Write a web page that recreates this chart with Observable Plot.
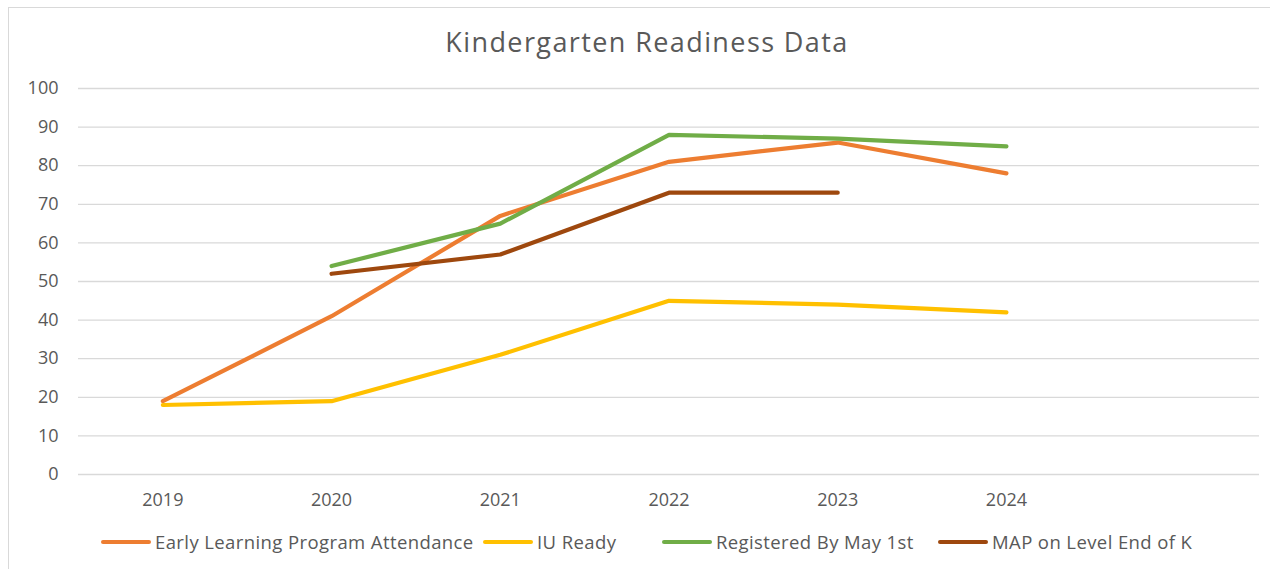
<!DOCTYPE html>
<html>
<head>
<meta charset="utf-8">
<script src="https://cdn.jsdelivr.net/npm/d3@7"></script>
<script src="https://cdn.jsdelivr.net/npm/@observablehq/plot@0.6"></script>
<style>
  html, body { margin: 0; padding: 0; background: #fff; }
  body { width: 1270px; height: 569px; position: relative; overflow: hidden; font-family: "Open Sans", Lato, sans-serif; }
  #frame { position: absolute; left: 8px; top: 7px; width: 1270px; height: 600px; border: 1px solid #d9d9d9; box-sizing: border-box; }
  #title { position: absolute; left: 0; width: 1294px; top: 28px; line-height: 27px; text-align: center; font-size: 27px; letter-spacing: 1.4px; color: #595959; }
  #chart { position: absolute; left: 0; top: 60px; }
  .leg { position: absolute; top: 529px; display: flex; align-items: center; font-size: 18.5px; letter-spacing: 0.4px; color: #595959; white-space: nowrap; }
  .sw { width: 50px; height: 4px; border-radius: 2px; margin-right: 4px; }
</style>
</head>
<body>
<div id="frame"></div>
<div id="title">Kindergarten Readiness Data</div>
<div id="chart"></div>
<div id="legend"></div>
<script>
const years = [2019, 2020, 2021, 2022, 2023, 2024];
const seriesNames = ["Early Learning Program Attendance", "IU Ready", "Registered By May 1st", "MAP on Level End of K"];
const earlyLearning = [19, 41, 67, 81, 86, 78];
const iuReady = [18, 19, 31, 45, 44, 42];
const registered = [null, 54, 65, 88, 87, 85];
const mapOnLevel = [null, 52, 57, 73, 73, null];
const colors = ["#ED7D31", "#FFC000", "#70AD47", "#9E480E"];
const yTicks = [0, 10, 20, 30, 40, 50, 60, 70, 80, 90, 100];
const legendLeft = [101, 483, 662, 938];

const allSeries = [earlyLearning, iuReady, registered, mapOnLevel];
const rows = [];
allSeries.forEach((vals, si) => {
  vals.forEach((v, i) => rows.push({series: seriesNames[si], year: years[i], value: v}));
});

const chart = Plot.plot({
  width: 1270,
  height: 460,
  marginLeft: 78,
  marginRight: 11,
  marginTop: 28,
  marginBottom: 46,
  style: {fontFamily: "'Open Sans', Lato, sans-serif", fontSize: "18px", color: "#595959", background: "transparent"},
  x: {domain: [2018.5, 2025.5]},
  y: {domain: [0, 100]},
  color: {domain: seriesNames, range: colors},
  marks: [
    Plot.ruleY(yTicks, {stroke: "#d9d9d9", strokeWidth: 1.3}),
    Plot.axisY({ticks: yTicks, tickSize: 0, tickPadding: 20, label: null, fontSize: 18}),
    Plot.axisX({ticks: years, tickSize: 0, tickPadding: 19, label: null, tickFormat: d => String(d), fontSize: 18}),
    ...seriesNames.map(name => Plot.line(rows.filter(r => r.series === name), {
      x: "year", y: "value", stroke: "series", strokeWidth: 4.2,
      defined: d => d.value != null, strokeLinecap: "round", strokeLinejoin: "round"
    }))
  ]
});
document.getElementById("chart").appendChild(chart);

const legend = document.getElementById("legend");
seriesNames.forEach((name, i) => {
  const item = document.createElement("div");
  item.className = "leg";
  item.style.left = legendLeft[i] + "px";
  const sw = document.createElement("div");
  sw.className = "sw";
  sw.style.background = colors[i];
  const label = document.createElement("span");
  label.textContent = name;
  item.appendChild(sw);
  item.appendChild(label);
  legend.appendChild(item);
});
</script>
</body>
</html>
